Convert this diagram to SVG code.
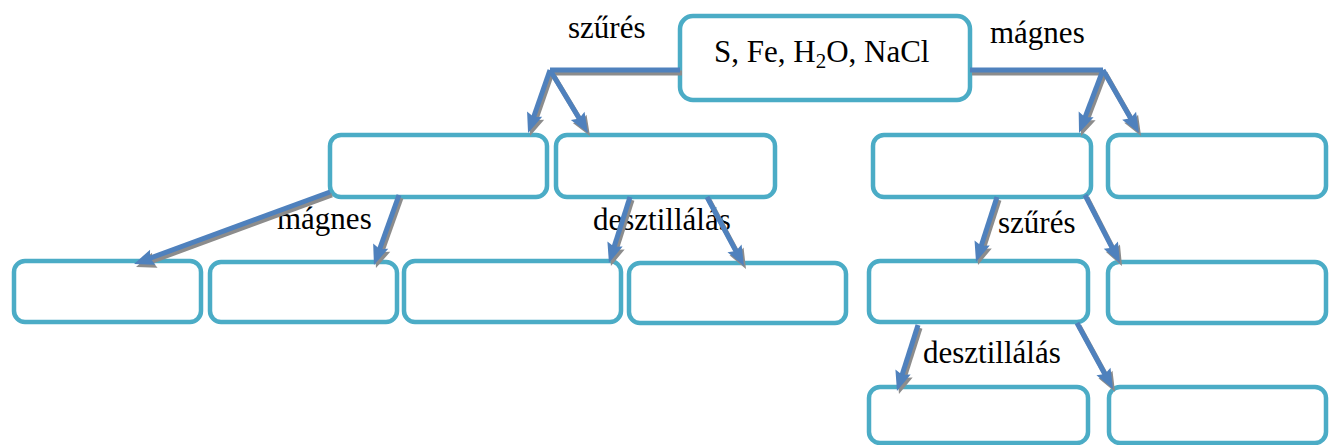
<svg xmlns="http://www.w3.org/2000/svg" width="1329" height="445" viewBox="0 0 1329 445">
<style>
.box{fill:#fff;stroke:#4bacc6;stroke-width:4.5}
.lbl{font-family:"Liberation Serif","Times New Roman",serif;font-size:31px;fill:#000}
.ln{fill:none;stroke-width:5;stroke-linejoin:miter}
.main .ln{stroke:#4f81bd}
.shadow .ln{stroke:#8c8c8c}
</style>
<defs>
<marker id="hb" markerUnits="userSpaceOnUse" markerWidth="22" markerHeight="18" refX="8" refY="8" orient="auto" overflow="visible">
<path d="M0,0 L20,8 L0,16 L3,8 z" fill="#4f81bd"/>
</marker>
<marker id="hg" markerUnits="userSpaceOnUse" markerWidth="22" markerHeight="18" refX="8" refY="8" orient="auto" overflow="visible">
<path d="M0,0 L20,8 L0,16 L3,8 z" fill="#8c8c8c"/>
</marker>
</defs>
<rect width="1329" height="445" fill="#fff"/>

<g id="root"><rect class="box" x="680" y="16" width="290" height="84" rx="13"/>
<text class="lbl" x="714" y="62" font-size="32">S, Fe, H<tspan font-size="21" dy="6">2</tspan><tspan dy="-6">O, NaCl</tspan></text></g>
<g id="n1a"><rect class="box" x="330" y="135" width="217" height="62" rx="11"/></g>
<g id="n1b"><rect class="box" x="556" y="135" width="219" height="62" rx="11"/></g>
<g id="n1c"><rect class="box" x="873" y="135" width="218" height="62" rx="11"/></g>
<g id="n1d"><rect class="box" x="1108" y="135" width="218" height="62" rx="11"/></g>
<g id="n2a"><rect class="box" x="14" y="261" width="187" height="61" rx="11"/></g>
<g id="n2b"><rect class="box" x="210" y="262" width="187" height="60" rx="11"/></g>
<g id="n2c"><rect class="box" x="404" y="261" width="217" height="61" rx="11"/></g>
<g id="n2d"><rect class="box" x="629" y="263" width="217" height="60" rx="11"/></g>
<g id="n2e"><rect class="box" x="869" y="261" width="219" height="61" rx="11"/></g>
<g id="n2f"><rect class="box" x="1108" y="262" width="218" height="61" rx="11"/></g>
<g id="n3a"><rect class="box" x="869" y="387" width="219" height="56" rx="11"/></g>
<g id="n3b"><rect class="box" x="1109" y="387" width="217" height="56" rx="11"/></g>

<g id="labels">
<text class="lbl" x="568" y="38">szűrés</text>
<text class="lbl" x="990" y="43">mágnes</text>
<text class="lbl" x="277" y="229">mágnes</text>
<text class="lbl" x="593" y="230">desztillálás</text>
<text class="lbl" x="998" y="233">szűrés</text>
<text class="lbl" x="923" y="363">desztillálás</text>
</g>

<g id="connectors">
<g class="shadow" transform="translate(2,3)">
<path class="ln" d="M680,70 L550,70"/>
<path class="ln" d="M550,70 L532,121.7" marker-end="url(#hg)"/>
<path class="ln" d="M550,70 L581.8,122.7" marker-end="url(#hg)"/>
<path class="ln" d="M970,70 L1103,70"/>
<path class="ln" d="M1103,70 L1083.3,121.8" marker-end="url(#hg)"/>
<path class="ln" d="M1103,70 L1133.1,122.6" marker-end="url(#hg)"/>
<path class="ln" d="M330,192 L145.3,259.9" marker-end="url(#hg)"/>
<path class="ln" d="M399,195 L378,253.7" marker-end="url(#hg)"/>
<path class="ln" d="M630,197 L612.6,251.6" marker-end="url(#hg)"/>
<path class="ln" d="M707,197 L738.3,255.4" marker-end="url(#hg)"/>
<path class="ln" d="M997,197 L979.7,250.6" marker-end="url(#hg)"/>
<path class="ln" d="M1085,195 L1114.5,252.3" marker-end="url(#hg)"/>
<path class="ln" d="M918,325 L900.6,379.6" marker-end="url(#hg)"/>
<path class="ln" d="M1077,323 L1107.3,378.5" marker-end="url(#hg)"/>
</g>
<g class="main">
<path class="ln" d="M680,70 L550,70"/>
<path class="ln" d="M550,70 L532,121.7" marker-end="url(#hb)"/>
<path class="ln" d="M550,70 L581.8,122.7" marker-end="url(#hb)"/>
<path class="ln" d="M970,70 L1103,70"/>
<path class="ln" d="M1103,70 L1083.3,121.8" marker-end="url(#hb)"/>
<path class="ln" d="M1103,70 L1133.1,122.6" marker-end="url(#hb)"/>
<path class="ln" d="M330,192 L145.3,259.9" marker-end="url(#hb)"/>
<path class="ln" d="M399,195 L378,253.7" marker-end="url(#hb)"/>
<path class="ln" d="M630,197 L612.6,251.6" marker-end="url(#hb)"/>
<path class="ln" d="M707,197 L738.3,255.4" marker-end="url(#hb)"/>
<path class="ln" d="M997,197 L979.7,250.6" marker-end="url(#hb)"/>
<path class="ln" d="M1085,195 L1114.5,252.3" marker-end="url(#hb)"/>
<path class="ln" d="M918,325 L900.6,379.6" marker-end="url(#hb)"/>
<path class="ln" d="M1077,323 L1107.3,378.5" marker-end="url(#hb)"/>
</g>
</g>
</svg>
